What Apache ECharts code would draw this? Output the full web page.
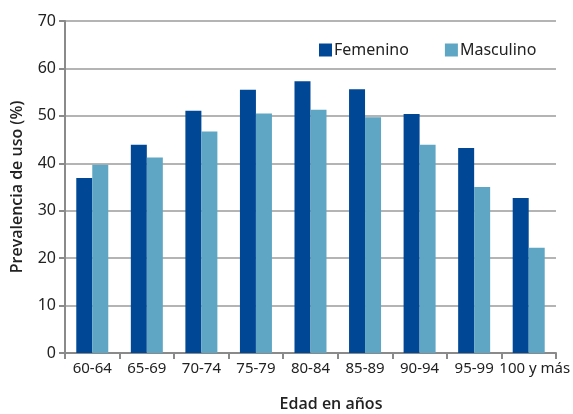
<!DOCTYPE html>
<html>
<head>
<meta charset="utf-8">
<script src="https://cdn.jsdelivr.net/npm/echarts@6/dist/echarts.min.js"></script>
<style>
  html, body { margin: 0; padding: 0; background: #fff; }
  #chart { width: 573px; height: 414px; }
</style>
</head>
<body>
<div id="chart"></div>
<script>
// Age groups and usage prevalence (%) by sex
const categories = ['60-64', '65-69', '70-74', '75-79', '80-84', '85-89', '90-94', '95-99', '100 y más'];
const femenino = [36.9, 43.9, 51.1, 55.5, 57.3, 55.6, 50.4, 43.2, 32.7];
const masculino = [39.7, 41.2, 46.7, 50.5, 51.3, 49.7, 43.9, 35.0, 22.2];
const yTicks = [0, 10, 20, 30, 40, 50, 60, 70];
const xTitle = 'Edad en años';
const yTitle = 'Prevalencia de uso (%)';

const FONT = '"Noto Sans", "Open Sans", sans-serif';
const TITLE_FONT = '"Open Sans", "Noto Sans", sans-serif';
const chart = echarts.init(document.getElementById('chart'), null, { renderer: 'canvas' });

// The last, longest label is nudged right so it clears its neighbour
const xData = categories.map((c, i) => i === categories.length - 1
  ? { value: c, textStyle: { padding: [0, 0, 0, 12] } }
  : c);

chart.setOption({
  animation: false,
  textStyle: { fontFamily: FONT },
  grid: { left: 65, right: 15, top: 21, bottom: 61, containLabel: false },
  legend: {
    top: 37, left: 314,
    itemWidth: 13, itemHeight: 13, itemGap: 36,
    icon: 'rect',
    textStyle: { fontFamily: FONT, fontSize: 16, color: '#222', padding: [0, 0, 0, -3] },
    data: ['Femenino', 'Masculino']
  },
  graphic: [
    {
      type: 'text',
      x: 331, y: 404,
      style: {
        text: xTitle,
        x: 0, y: 0,
        align: 'center', verticalAlign: 'middle',
        font: '600 16px ' + TITLE_FONT,
        fill: '#222'
      }
    }
  ],
  xAxis: {
    type: 'category',
    data: xData,
    axisLine: { lineStyle: { color: '#8a8a8a', width: 2 } },
    axisTick: { show: true, alignWithLabel: false, length: 6, lineStyle: { color: '#8a8a8a', width: 2 } },
    axisLabel: { fontFamily: FONT, fontSize: 15, color: '#222', margin: 8, interval: 0 }
  },
  yAxis: {
    type: 'value',
    min: yTicks[0], max: yTicks[yTicks.length - 1], interval: 10,
    name: yTitle,
    nameLocation: 'middle',
    nameGap: 40,
    nameRotate: 90,
    nameTextStyle: { fontFamily: TITLE_FONT, fontSize: 16, fontWeight: 600, color: '#222' },
    axisLine: { show: true, lineStyle: { color: '#8a8a8a', width: 2 } },
    axisTick: { show: true, inside: false, length: 6, lineStyle: { color: '#8a8a8a', width: 2 } },
    axisLabel: { fontFamily: FONT, fontSize: 16, color: '#222', margin: 9 },
    splitLine: { show: true, lineStyle: { color: '#b4b4b4', width: 2 } }
  },
  series: [
    {
      name: 'Femenino', type: 'bar', data: femenino,
      barWidth: 16, barGap: '0%',
      itemStyle: { color: '#004896' }
    },
    {
      name: 'Masculino', type: 'bar', data: masculino,
      barWidth: 16,
      itemStyle: { color: '#5ea6c3' }
    }
  ]
});
</script>
</body>
</html>
